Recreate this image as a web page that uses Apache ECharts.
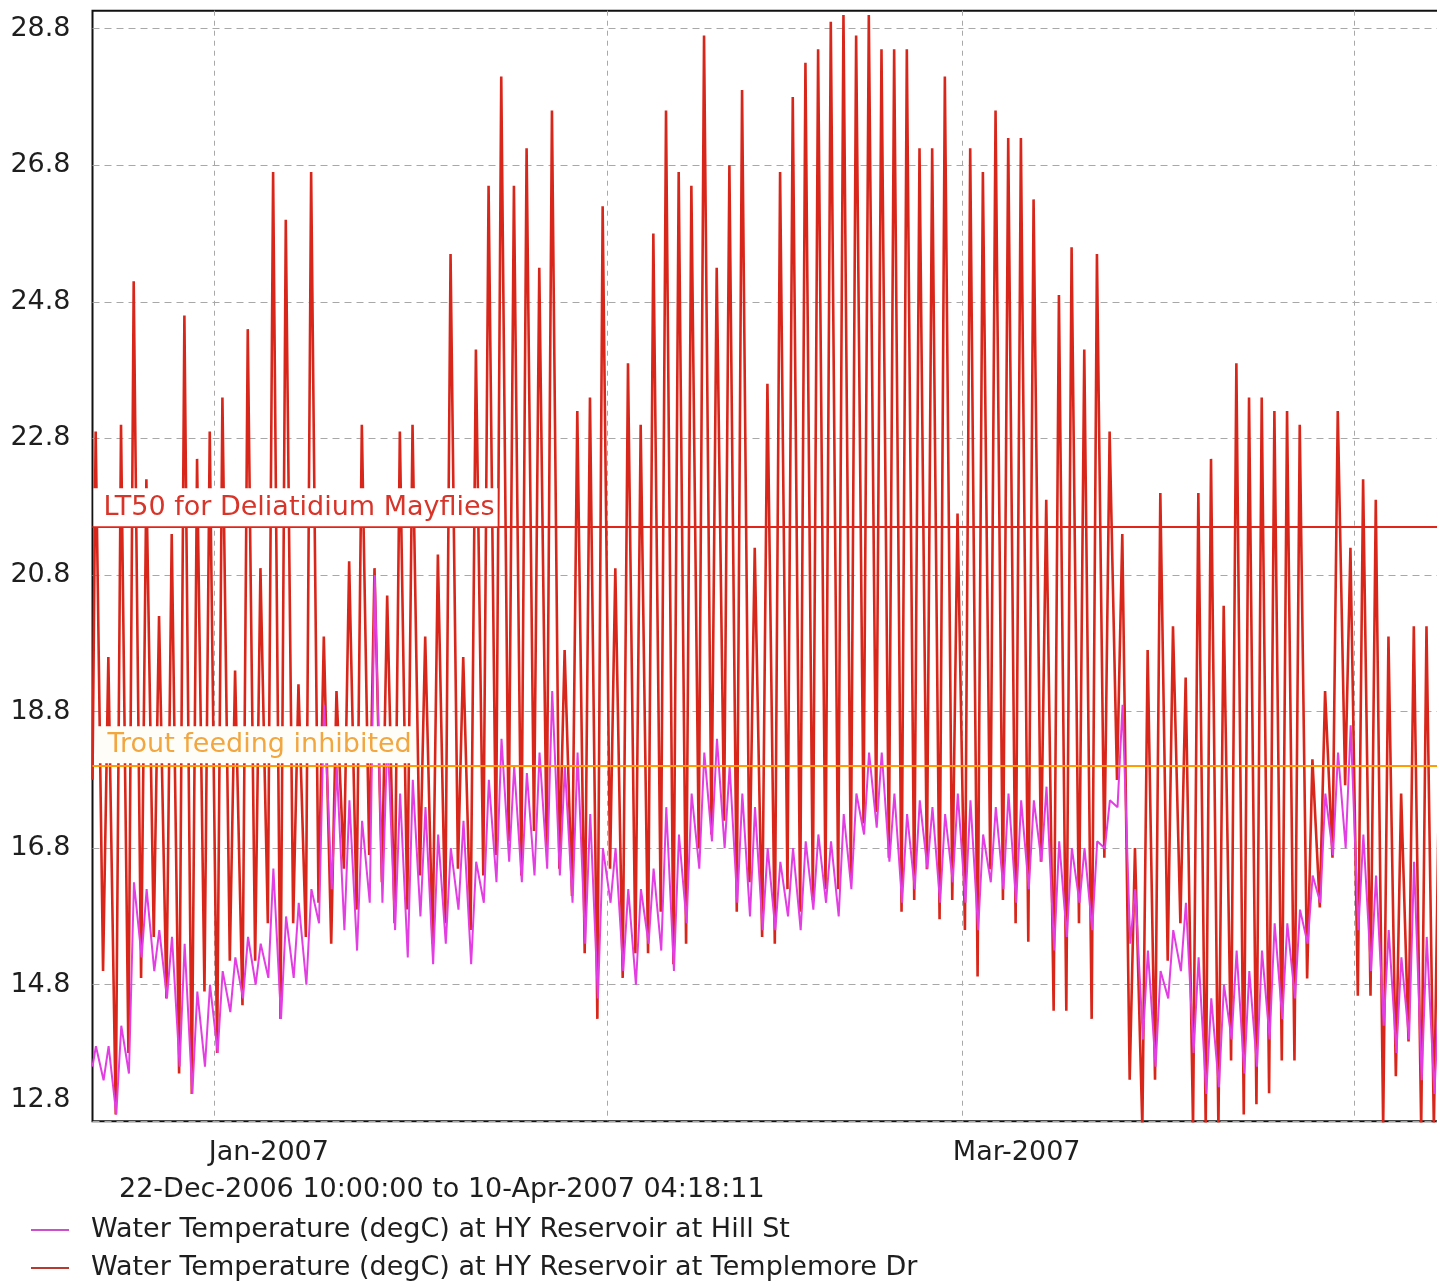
<!DOCTYPE html>
<html>
<head>
<meta charset="utf-8">
<script src="https://cdn.jsdelivr.net/npm/echarts@6/dist/echarts.min.js"></script>
<style>
html,body{margin:0;padding:0;background:#fff;}
#chart{width:1437px;height:1282px;}
</style>
</head>
<body>
<div id="chart"></div>
<script>
// ---- data ----
const seriesNames = [
  'Water Temperature (degC) at HY Reservoir at Hill St',
  'Water Temperature (degC) at HY Reservoir at Templemore Dr'
];
const rangeText = '22-Dec-2006 10:00:00 to 10-Apr-2007 04:18:11';
const xStart = '2006-12-22T10:00:00Z';
const xEnd = '2007-04-10T04:18:11Z';
const firstDay = '2006-12-22T00:00:00Z';

// Templemore Dr: daily peaks (22 Dec .. 7 Apr) and morning troughs (23 Dec .. 7 Apr)
const redStartValue = 17.8;
const redPeaks = [
  22.9, 19.6, 23.0, 25.1, 22.2, 20.2, 21.4, 24.6, 22.5, 22.9,
  23.4, 19.4, 24.4, 20.9, 26.7, 26.0, 19.2, 26.7, 19.9, 19.1,
  21.0, 23.0, 20.9, 20.5, 22.9, 23.0, 19.9, 21.1, 25.5, 19.6,
  24.1, 26.5, 28.1, 26.5, 27.05, 25.3, 27.6, 19.7, 23.2, 23.4,
  26.2, 20.9, 23.9, 23.0, 25.8, 27.6, 26.7, 26.5, 28.7, 25.3,
  26.8, 27.9, 21.2, 23.6, 26.7, 27.8, 28.3, 28.5, 28.9, 29.0,
  28.7, 29.0, 28.5, 28.5, 28.5, 27.05, 27.05, 28.1, 21.7, 27.05,
  26.7, 27.6, 27.2, 27.2, 26.3, 21.9, 24.9, 25.6, 24.1, 25.5,
  22.9, 21.4, 16.8, 19.7, 22.0, 20.05, 19.3, 22.0, 22.5, 20.35,
  23.9, 23.4, 23.4, 23.2, 23.2, 23.0, 18.1, 19.1, 23.2, 21.2,
  22.2, 21.9, 19.9, 17.6, 20.05, 20.05, 17.9
];
const redTroughs = [
  15.0, 12.9, 13.8, 14.9, 15.5, 14.6, 13.5, 13.2, 14.7,
  13.8, 15.15, 14.5, 15.15, 15.7, 14.3, 15.7, 15.5, 16.0, 15.4,
  16.5, 15.9, 16.7, 16.3, 15.7, 15.9, 16.4, 15.4, 15.7, 16.5,
  15.6, 16.4, 16.7, 16.9, 16.4, 17.05, 16.8, 16.5, 16.1, 15.26,
  14.3, 16.5, 14.9, 15.26, 15.26, 15.87, 15.1, 15.4, 16.8, 17.0,
  17.2, 15.87, 16.3, 15.5, 15.4, 16.2, 15.87, 16.04, 16.2, 16.2,
  16.38, 17.16, 17.33, 16.66, 15.87, 16.04, 16.49, 15.76, 16.04, 15.6,
  14.92, 16.49, 16.04, 15.7, 15.43, 16.6, 14.42, 14.42, 15.7, 14.3,
  16.66, 17.8, 13.41, 12.7, 13.41, 15.15, 15.7, 12.7, 12.7, 12.7,
  13.69, 12.9, 13.05, 13.21, 13.69, 13.69, 14.89, 15.93, 16.66, 17.72,
  14.64, 14.64, 12.7, 13.46, 13.97, 12.7, 12.7
];

// Hill St: daily peaks and morning troughs
const pinkStartValue = 13.6;
const pinkPeaks = [
  13.9, 13.9, 14.2, 16.3, 16.2, 15.6, 15.5, 15.4, 14.7, 14.8,
  15.0, 15.2, 15.5, 15.4, 16.5, 15.8, 16.0, 16.2, 18.9, 18.0,
  17.5, 17.2, 20.8, 18.5, 17.6, 17.8, 17.4, 17.0, 16.8, 17.2,
  16.6, 17.8, 18.4, 18.0, 17.9, 18.2, 19.1, 18.0, 18.2, 17.3,
  16.8, 16.8, 16.2, 16.2, 16.5, 17.4, 17.0, 17.6, 18.2, 18.4,
  18.0, 17.6, 17.4, 16.8, 16.6, 16.8, 16.9, 17.0, 16.9, 17.3,
  17.6, 18.2, 18.2, 17.6, 17.3, 17.5, 17.4, 17.3, 17.6, 17.5,
  17.0, 17.4, 17.6, 17.5, 17.5, 17.7, 16.9, 16.8, 16.8, 16.9,
  17.5, 18.9, 16.2, 15.3, 15.0, 15.6, 16.0, 15.2, 14.6, 14.8,
  15.3, 15.0, 15.3, 15.7, 15.7, 15.9, 16.4, 17.6, 18.2, 18.6,
  17.0, 16.4, 15.6, 15.2, 16.6, 15.5, 14.8
];
const pinkTroughs = [
  13.4, 12.9, 13.5, 15.2, 15.0, 14.6, 13.6, 13.2, 13.6,
  13.8, 14.4, 14.6, 14.8, 14.9, 14.3, 14.9, 14.8, 15.7, 16.2,
  15.6, 15.3, 16.0, 16.0, 15.6, 15.2, 15.8, 15.1, 15.4, 15.9,
  15.1, 16.0, 16.3, 16.6, 16.3, 16.4, 16.5, 16.4, 16.0, 15.4,
  14.6, 16.0, 15.0, 14.8, 15.4, 15.3, 15.0, 15.7, 16.5, 16.9,
  16.8, 16.0, 15.8, 15.6, 15.6, 15.8, 15.6, 15.9, 16.0, 15.8,
  16.2, 17.0, 17.1, 16.6, 16.0, 16.2, 16.5, 16.0, 16.3, 16.0,
  15.6, 16.3, 16.2, 16.0, 16.2, 16.6, 15.3, 15.5, 16.0, 15.6,
  16.8, 17.4, 15.4, 14.0, 13.6, 14.6, 15.0, 13.8, 13.2, 13.3,
  14.0, 13.5, 13.6, 14.0, 14.3, 14.6, 15.4, 16.0, 16.7, 16.8,
  15.6, 15.0, 14.2, 13.8, 14.0, 13.4, 13.2
];

// reference lines
const refLineNames = ['LT50 for Deliatidium Mayflies', 'Trout feeding inhibited'];
const refLineValues = [21.5, 18.0];

// axis ticks
const yTickValues = [12.8, 14.8, 16.8, 18.8, 20.8, 22.8, 24.8, 26.8, 28.8];
const xGridDates = ['2007-01-01T00:00:00Z', '2007-02-01T00:00:00Z', '2007-03-01T00:00:00Z', '2007-04-01T00:00:00Z'];
const xLabelDates = ['2007-01-05T08:00:00Z', '2007-03-05T08:00:00Z'];
const xLabelTexts = ['Jan-2007', 'Mar-2007'];

// ---- build ----
const HOUR = 3600000, DAY = 24 * HOUR;
const t0 = Date.parse(firstDay);
function buildSeries(startValue, peaks, troughs, troughHour, peakHour) {
  const pts = [[Date.parse(xStart), startValue]];
  for (let i = 0; i < peaks.length; i++) {
    if (i > 0) pts.push([t0 + i * DAY + troughHour * HOUR, troughs[i - 1]]);
    pts.push([t0 + i * DAY + peakHour * HOUR, peaks[i]]);
  }
  return pts;
}
const redData = buildSeries(redStartValue, redPeaks, redTroughs, 6, 16);
const pinkData = buildSeries(pinkStartValue, pinkPeaks, pinkTroughs, 7, 16.5);

const FONT = "'DejaVu Sans', sans-serif";
const TXT = '#1e1e1e';
const labelMap = {};
xLabelDates.forEach((d, i) => { labelMap[Date.parse(d)] = xLabelTexts[i]; });

const chart = echarts.init(document.getElementById('chart'), null, {renderer: 'canvas'});
chart.setOption({
  animation: false,
  backgroundColor: '#fff',
  title: {
    text: rangeText,
    left: 114, top: 1170,
    textStyle: {fontSize: 27, fontWeight: 'normal', fontFamily: FONT, color: TXT, lineHeight: 30}
  },
  legend: {
    orient: 'vertical', left: 31, top: 1215, height: 200, padding: 0,
    itemWidth: 38, itemHeight: 2, itemGap: 8, icon: 'rect',
    selectedMode: false,
    textStyle: {fontSize: 27, fontFamily: FONT, color: TXT, lineHeight: 30, padding: [0, 0, 0, 17]},
    data: [
      {name: seriesNames[0], itemStyle: {color: '#cc4fcc'}},
      {name: seriesNames[1], itemStyle: {color: '#b53a30'}}
    ]
  },
  grid: {
    left: 92.5, top: 10.7, width: 1378.5, height: 1110.6,
    outerBoundsMode: 'none', containLabel: false,
    show: true, borderColor: '#111', borderWidth: 2, backgroundColor: 'transparent'
  },
  xAxis: {
    type: 'value',
    min: Date.parse(xStart), max: Date.parse(xEnd),
    axisLine: {show: false},
    axisTick: {show: false, customValues: xGridDates.map(d => Date.parse(d))},
    splitLine: {show: true, lineStyle: {color: '#a8a8a8', width: 1, type: [5, 5]}},
    axisLabel: {
      customValues: xLabelDates.map(d => Date.parse(d)),
      formatter: v => labelMap[v] || '',
      fontSize: 27, fontFamily: FONT, color: TXT, margin: 18
    }
  },
  yAxis: {
    type: 'value',
    min: 12.8, max: 29.063,
    axisLine: {show: false},
    axisTick: {show: false, customValues: yTickValues},
    splitLine: {show: true, lineStyle: {color: '#a8a8a8', width: 1, type: [7, 5]}},
    axisLabel: {
      customValues: yTickValues,
      formatter: v => (Math.abs(v - 12.8) < 1e-6 ? '{lo|12.8}' : Number(v).toFixed(1)),
      fontSize: 27, fontFamily: FONT, color: TXT, margin: 22,
      rich: {lo: {fontSize: 27, fontFamily: FONT, color: TXT, padding: [0, 0, 43, 0]}}
    }
  },
  series: [
    {
      name: seriesNames[1], type: 'line', data: redData, z: 2,
      showSymbol: false, symbol: 'none',
      lineStyle: {color: '#d8261a', width: 2.6},
      itemStyle: {color: '#b53a30'}
    },
    {
      name: seriesNames[0], type: 'line', data: pinkData, z: 3,
      showSymbol: false, symbol: 'none',
      lineStyle: {color: '#e23ee2', width: 2},
      itemStyle: {color: '#cc4fcc'}
    },
    {
      name: 'refs', type: 'line', data: [], z: 10,
      markLine: {
        silent: true, symbol: 'none', animation: false,
        data: [
          {
            yAxis: refLineValues[0], name: refLineNames[0],
            lineStyle: {color: '#e0261a', width: 2, type: 'solid'},
            label: {
              show: true, position: 'insideStartTop', formatter: '{b}', distance: 1,
              color: '#d8352a', fontSize: 27, fontFamily: FONT, lineHeight: 32,
              backgroundColor: '#ffffff', padding: [4, 3, 2, 10]
            }
          },
          {
            yAxis: refLineValues[1], name: refLineNames[1],
            lineStyle: {color: '#ff9c00', width: 2, type: 'solid'},
            label: {
              show: true, position: 'insideStartTop', formatter: '{b}', distance: 3,
              color: '#f2a640', fontSize: 27, fontFamily: FONT, lineHeight: 32,
              backgroundColor: '#fffdf8', padding: [3, 4, 2, 12]
            }
          }
        ]
      }
    }
  ]
});
</script>
</body>
</html>
